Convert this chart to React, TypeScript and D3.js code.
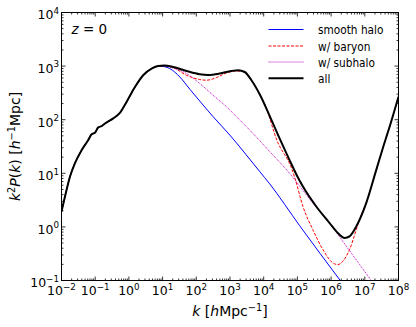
import * as d3 from "d3";

// shared low-k part (all four curves coincide here)
const kShared = [0.01, 0.0127, 0.0179, 0.0251, 0.0398, 0.0622, 0.0785, 0.0984, 0.123, 0.155, 0.195, 0.343, 0.541, 0.855, 1.51, 2.65, 4.71, 7.38];
const pShared = [1.94, 3.69, 8.69, 15.5, 27.2, 41.7, 53.7, 57.1, 71.9, 75.9, 85.1, 106, 134, 215, 407, 676, 897, 1000];

// smooth halo
const kSmooth = [11.2, 16.4, 32.4, 64.1, 127, 315, 984, 2740, 7600, 15100, 1.17e5, 1.87e6];
const pSmooth = [977, 899, 627, 371, 222, 114, 51.8, 23.9, 10.8, 6.35, 1.05, 0.1];

// w/ baryon
const kBaryon = [11.2, 20.6, 51.3, 127, 200, 398, 785, 1550, 2740, 4330, 7670, 11200, 24500, 69800, 87500, 1.46e5, 2.88e5, 5.71e5, 1.13e6, 1.58e6, 2.24e6, 3.53e6, 5.58e6, 7.08e6, 1.1e7, 2.19e7, 3.55e7, 6.31e7, 1e8];
const pBaryon = [1020, 938, 675, 561, 545, 611, 745, 811, 776, 545, 295, 182, 41.7, 11.6, 7.53, 2.4, 0.887, 0.377, 0.213, 0.198, 0.229, 0.377, 0.887, 1.41, 2.78, 11.6, 31.6, 100, 269];

// w/ subhalo
const kSub = [11.2, 20.6, 51.3, 127, 316, 785, 1950, 3850, 15100, 58900, 2.31e5, 1.43e6, 3.39e6, 6.98e6, 1.55e7];
const pSub = [1010, 923, 726, 473, 286, 174, 98.4, 64.1, 25.4, 10.0, 3.31, 0.794, 0.372, 0.2, 0.1];

// all
const kAll = [11.2, 20.6, 51.3, 127, 224, 497, 1100, 1740, 2740, 4330, 7670, 15100, 28200, 56200, 1e5, 1.46e5, 3.63e5, 9.04e5, 1.58e6, 2.51e6, 3.53e6, 5.58e6, 1.1e7, 2.19e7, 3.55e7, 6.31e7, 1e8];
const pAll = [1030, 962, 811, 705, 684, 726, 811, 836, 776, 545, 295, 117, 47.9, 18.6, 8.71, 5.66, 2.4, 1.18, 0.771, 0.622, 0.667, 1.02, 2.78, 11.6, 31.6, 100, 269];

const xExps = [-2, -1, 0, 1, 2, 3, 4, 5, 6, 7, 8];
const yExps = [-1, 0, 1, 2, 3, 4];

const series = [
  { label: "smooth halo", k: kSmooth, p: pSmooth, color: "#0000ff", width: 1, dash: "" },
  { label: "w/ baryon", k: kBaryon, p: pBaryon, color: "#ff0000", width: 1, dash: "3,1.5" },
  { label: "w/ subhalo", k: kSub, p: pSub, color: "#bf00bf", width: 1, dash: "1,1" },
  { label: "all", k: kAll, p: pAll, color: "#000000", width: 2, dash: "" },
];

const FONT = "DejaVu Sans, sans-serif";

function Pow10({ e, ...rest }: any) {
  const s = e < 0 ? "\u2212" + Math.abs(e) : String(e);
  return (
    <text {...rest}>
      10<tspan dy={-5.5} fontSize="0.7em">{s}</tspan>
    </text>
  );
}

export default function App() {
  const W = 416, H = 327;
  const left = 61.5, right = 398.5, top = 12.5, bottom = 280.5;
  const x = d3.scaleLog().domain([1e-2, 1e8]).range([left, right]);
  const y = d3.scaleLog().domain([1e-1, 1e4]).range([bottom, top]);

  const line = d3.line<[number, number]>()
    .x(d => x(d[0]))
    .y(d => y(d[1]))
    .curve(d3.curveMonotoneX);

  const pts = (k: number[], p: number[]) =>
    kShared.concat(k).map((kk, i) => [kk, pShared.concat(p)[i]] as [number, number]);

  const xMinor: number[] = [];
  xExps.slice(0, -1).forEach(e => { for (let m = 2; m < 10; m++) xMinor.push(m * Math.pow(10, e)); });
  const yMinor: number[] = [];
  yExps.slice(0, -1).forEach(e => { for (let m = 2; m < 10; m++) yMinor.push(m * Math.pow(10, e)); });

  const legendY = [29.5, 46, 62, 78.3];

  return (
    <svg width={W} height={H} style={{ position: "absolute", left: 0, top: 0, background: "#fff" }} fontFamily={FONT}>
      <defs>
        <clipPath id="plot">
          <rect x={left} y={top} width={right - left} height={bottom - top} />
        </clipPath>
      </defs>

      <g clipPath="url(#plot)" fill="none">
        {series.map(s => (
          <path key={s.label} d={line(pts(s.k, s.p)) || ""} stroke={s.color}
            strokeWidth={s.width} strokeDasharray={s.dash || undefined} strokeLinejoin="round" />
        ))}
      </g>

      {/* ticks */}
      <g stroke="#000" strokeWidth={0.8}>
        {xExps.map(e => {
          const px = x(Math.pow(10, e));
          return <g key={"xm" + e}>
            <line x1={px} x2={px} y1={bottom} y2={bottom - 4} />
            <line x1={px} x2={px} y1={top} y2={top + 4} />
          </g>;
        })}
        {xMinor.map((v, i) => {
          const px = x(v);
          return <g key={"xn" + i}>
            <line x1={px} x2={px} y1={bottom} y2={bottom - 2} />
            <line x1={px} x2={px} y1={top} y2={top + 2} />
          </g>;
        })}
        {yExps.map(e => {
          const py = y(Math.pow(10, e));
          return <g key={"ym" + e}>
            <line x1={left} x2={left + 4} y1={py} y2={py} />
            <line x1={right} x2={right - 4} y1={py} y2={py} />
          </g>;
        })}
        {yMinor.map((v, i) => {
          const py = y(v);
          return <g key={"yn" + i}>
            <line x1={left} x2={left + 2} y1={py} y2={py} />
            <line x1={right} x2={right - 2} y1={py} y2={py} />
          </g>;
        })}
      </g>

      <rect x={left} y={top} width={right - left} height={bottom - top} fill="none" stroke="#000" strokeWidth={1} />

      {/* tick labels */}
      <g fontSize={12.5} fill="#000">
        {xExps.map(e => (
          <Pow10 key={"xl" + e} e={e} x={x(Math.pow(10, e))} y={295} textAnchor="middle" />
        ))}
        {yExps.map(e => (
          <Pow10 key={"yl" + e} e={e} x={59} y={y(Math.pow(10, e)) + 6.8} textAnchor="end" />
        ))}
      </g>

      {/* axis labels */}
      <text x={(left + right) / 2} y={316} textAnchor="middle" fontSize={14}>
        <tspan fontStyle="italic">k</tspan> [<tspan fontStyle="italic">h</tspan>Mpc<tspan dy={-5.5} fontSize="0.7em">{"\u22121"}</tspan><tspan dy={5.5}>]</tspan>
      </text>
      <text transform={`translate(20,${(top + bottom) / 2}) rotate(-90)`} textAnchor="middle" fontSize={14}>
        <tspan fontStyle="italic">k</tspan><tspan dy={-5.5} fontSize="0.7em">2</tspan><tspan dy={5.5} fontStyle="italic">P</tspan>(<tspan fontStyle="italic">k</tspan>) [<tspan fontStyle="italic">h</tspan><tspan dy={-5.5} fontSize="0.7em">{"\u22121"}</tspan><tspan dy={5.5}>Mpc]</tspan>
      </text>

      <text x={71.5} y={33.5} fontSize={13.5}>
        <tspan fontStyle="italic">z</tspan> = 0
      </text>

      {/* legend */}
      <g>
        {series.map((s, i) => (
          <g key={"lg" + s.label}>
            <line x1={268.5} x2={303.5} y1={legendY[i]} y2={legendY[i]} stroke={s.color}
              strokeWidth={s.width} strokeDasharray={s.dash || undefined} />
            <text transform={`translate(318,${legendY[i] + 4.5}) scale(0.88,1)`} fontSize={12}>{s.label}</text>
          </g>
        ))}
      </g>
    </svg>
  );
}
